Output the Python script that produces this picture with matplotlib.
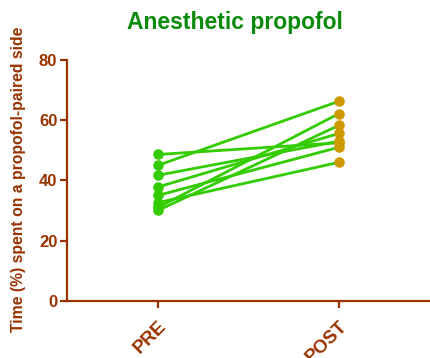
import matplotlib
matplotlib.use("Agg")
import matplotlib.pyplot as plt

plt.rcParams['font.family'] = ['Liberation Sans', 'DejaVu Sans']

categories = ["PRE", "POST"]
pre = [48.6, 45.0, 41.7, 37.8, 35.0, 32.6, 31.0, 30.0]
post = [52.5, 66.3, 53.0, 55.6, 51.0, 46.0, 62.2, 58.3]
yticks = [0, 20, 40, 60, 80]
title = "Anesthetic propofol"
ylabel = "Time (%) spent on a propofol-paired side"

brown = "#993300"
line_green = "#33cc00"
gold = "#cc9900"
title_green = "#0a8a0a"

fig = plt.figure(figsize=(4.30, 3.58), dpi=100)
ax = fig.add_axes([67/430, (358-300.7)/358, (430-67)/430, (300.7-60)/358])

for a, b in zip(pre, post):
    ax.plot([0, 1], [a, b], color=line_green, lw=2.0, zorder=2, solid_capstyle='round')
ax.scatter([0]*len(pre), pre, s=58, color=line_green, zorder=3, linewidths=0)
ax.scatter([1]*len(post), post, s=58, color=gold, zorder=3, linewidths=0)

ax.set_xlim(-0.503, 1.503)
ax.set_ylim(0, 80)
ax.set_yticks(yticks)
ax.set_xticks([0, 1])
ax.set_xticklabels(categories, rotation=45, ha='right', rotation_mode='anchor')

for s in ['top', 'right']:
    ax.spines[s].set_visible(False)
for s in ['left', 'bottom']:
    ax.spines[s].set_color(brown)
    ax.spines[s].set_linewidth(1.6)
ax.tick_params(axis='both', colors=brown, width=1.6, length=5, direction='out')
ax.tick_params(axis='y', labelsize=12, pad=2)
ax.tick_params(axis='x', labelsize=13.5, pad=7)
for lbl in ax.get_xticklabels() + ax.get_yticklabels():
    lbl.set_fontweight('bold')
    lbl.set_color(brown)

fig.text(235/430, (358-22)/358, title, color=title_green, fontsize=16.5,
         fontweight='bold', ha='center', va='center')
fig.text(19/430, (358-332)/358, ylabel, color=brown, fontsize=11.3,
         fontweight='bold', rotation=90, ha='center', va='bottom')

fig.savefig("out.png", dpi=100)
